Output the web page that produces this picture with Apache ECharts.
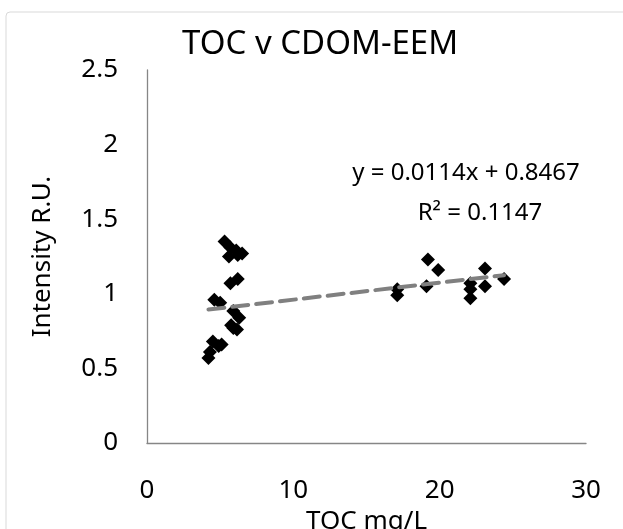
<!DOCTYPE html>
<html>
<head>
<meta charset="utf-8">
<script src="https://cdn.jsdelivr.net/npm/echarts@6/dist/echarts.min.js"></script>
<style>
html,body{margin:0;padding:0;background:#fff;}
#c{width:623px;height:529px;}
</style>
</head>
<body>
<div id="c"></div>
<script>
var tocValues = [5.3, 5.7, 6.1, 6.5, 5.6, 6.2, 5.7, 6.2, 4.6, 5.0, 5.9, 6.3, 5.75, 6.15, 5.9, 4.5, 4.9, 5.1, 4.3, 4.2,
                 17.1, 17.1, 19.2, 19.9, 19.1, 23.1, 24.4, 23.1, 22.1, 22.1, 22.1];
var intensityValues = [1.35, 1.31, 1.29, 1.27, 1.25, 1.26, 1.07, 1.10, 0.96, 0.94, 0.885, 0.84, 0.79, 0.76, 0.77, 0.68, 0.65, 0.66, 0.61, 0.57,
                       1.03, 0.99, 1.23, 1.16, 1.05, 1.17, 1.10, 1.05, 1.07, 1.03, 0.97];
var trendSlope = 0.0114;
var trendIntercept = 0.8467;
var trendRange = [4.2, 24.4];
var xTicks = [0, 10, 20, 30];
var yTicks = [0, 0.5, 1, 1.5, 2, 2.5];
var titleText = 'TOC v CDOM-EEM';
var eqText = 'y = 0.0114x + 0.8467';
var r2Text = 'R\u00b2 = 0.1147';

var pts = tocValues.map(function (x, i) { return [x, intensityValues[i]]; });
var trend = trendRange.map(function (x) { return [x, trendSlope * x + trendIntercept]; });
var FONT = 'Noto Sans';

var chart = echarts.init(document.getElementById('c'));
chart.setOption({
  animation: false,
  backgroundColor: '#ffffff',
  title: {
    text: titleText, left: 177, top: 23,
    textStyle: { fontFamily: FONT, fontSize: 33, fontWeight: 'normal', color: '#000' }
  },
  grid: { left: 147, top: 70, right: 37, bottom: 86, containLabel: false, outerBoundsMode: 'none' },
  xAxis: {
    type: 'value', min: 0, max: 30, interval: 10,
    name: 'TOC mg/L', nameLocation: 'middle', nameGap: 59,
    nameTextStyle: { fontFamily: FONT, fontSize: 26, color: '#000' },
    axisLine: { show: true, lineStyle: { color: '#868686', width: 1.3 } },
    axisTick: { show: false },
    splitLine: { show: false },
    axisLabel: { fontFamily: FONT, fontSize: 26, color: '#000', margin: 35,
      formatter: function (v) { return xTicks.indexOf(v) >= 0 ? String(v) : ''; } }
  },
  yAxis: {
    type: 'value', min: 0, max: 2.5, interval: 0.5,
    name: 'Intensity R.U.', nameLocation: 'middle', nameGap: 91,
    nameTextStyle: { fontFamily: FONT, fontSize: 26, color: '#000' },
    axisLine: { show: true, lineStyle: { color: '#868686', width: 1.3 } },
    axisTick: { show: false },
    splitLine: { show: false },
    axisLabel: { fontFamily: FONT, fontSize: 26, color: '#000', margin: 29,
      formatter: function (v) { return yTicks.indexOf(v) >= 0 ? String(v) : ''; } }
  },
  graphic: [
    { type: 'rect', shape: { x: 6, y: 12, width: 640, height: 540, r: 4 }, style: { fill: 'none', stroke: '#d9d9d9', lineWidth: 1 }, silent: true, z: -1 },
    { type: 'text', x: 466, y: 173, style: { text: eqText, align: 'center', verticalAlign: 'middle', fontFamily: FONT, fontSize: 24, fill: '#000' } },
    { type: 'text', x: 480, y: 213, style: { text: r2Text, align: 'center', verticalAlign: 'middle', fontFamily: FONT, fontSize: 24, fill: '#000' } }
  ],
  series: [
    {
      type: 'scatter', data: pts, symbol: 'diamond', symbolSize: 14,
      itemStyle: { color: '#000000', opacity: 1 }, z: 2
    },
    {
      type: 'line', data: trend, symbol: 'none', z: 3,
      lineStyle: { color: '#808080', width: 4, type: [16, 8], cap: 'round' }
    }
  ]
});
</script>
</body>
</html>
